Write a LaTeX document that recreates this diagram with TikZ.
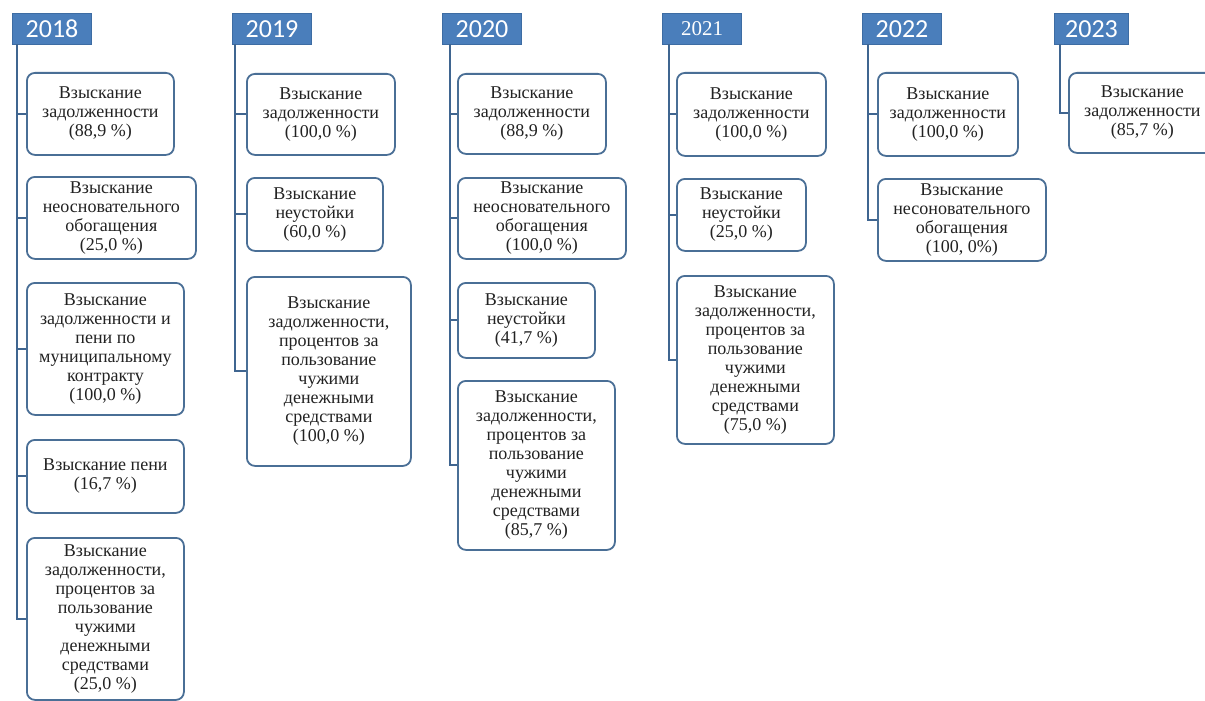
\documentclass[tikz,border=0pt]{standalone}
\usepackage{fontspec}
\setmainfont{Liberation Serif}
\newfontfamily\hdrfont{Carlito}
\definecolor{hdrblue}{HTML}{4A7EBB}
\definecolor{hdrline}{HTML}{3D6CA3}
\definecolor{boxc}{HTML}{4A6F96}
\definecolor{linec}{HTML}{3F6590}
\definecolor{txt}{HTML}{222222}
\begin{document}
\begin{tikzpicture}[x=1pt,y=-1pt,
  hdr/.style={draw=hdrline, line width=1pt, fill=hdrblue, text=white, inner sep=0pt,
    anchor=north west, minimum height=31pt, font=\hdrfont\fontsize{26}{26}\selectfont},
  yearbox/.style={draw=boxc, line width=1.8pt, rounded corners=8pt, fill=white, align=center,
    inner sep=0pt, anchor=north west, text=txt, font=\fontsize{18}{19}\selectfont},
  conn/.style={draw=linec, line width=2pt}]
\fill[white] (0,0) rectangle (1205,701);
\useasboundingbox (0,0) rectangle (1205,701);

% ---------- headers ----------
\node[hdr, minimum width=79pt] (h18) at (12,13) {2018};
\node[hdr, minimum width=79pt] (h19) at (232,13) {2019};
\node[hdr, minimum width=79pt] (h20) at (442,13) {2020};
\node[hdr, minimum width=79pt, font=\fontsize{21}{21}\selectfont] (h21) at (662,13) {2021};
\node[hdr, minimum width=79pt] (h22) at (862,13) {2022};
\node[hdr, minimum width=74pt] (h23) at (1054,13) {2023};

% ---------- connectors (drawn first, boxes cover their ends) ----------
\coordinate (v18) at (17,44);
\coordinate (v19) at (235,44);
\coordinate (v20) at (450,44);
\coordinate (v21) at (669,44);
\coordinate (v22) at (868,44);
\coordinate (v23) at (1060,44);

% ---------- 2018 ----------
\node[yearbox, minimum width=147pt, minimum height=82pt] (a1) at (26,72)
  {Взыскание\\задолженности\\(88,9 \%)};
\node[yearbox, minimum width=169pt, minimum height=82pt] (a2) at (26,176)
  {Взыскание\\неосновательного\\обогащения\\(25,0 \%)};
\node[yearbox, minimum width=157pt, minimum height=132pt] (a3) at (26,282)
  {Взыскание\\задолженности и\\пени по\\муниципальному\\контракту\\(100,0 \%)};
\node[yearbox, minimum width=157pt, minimum height=73pt] (a4) at (26,439)
  {Взыскание пени\\(16,7 \%)};
\node[yearbox, minimum width=157pt, minimum height=162pt] (a5) at (26,537)
  {Взыскание\\задолженности,\\процентов за\\пользование\\чужими\\денежными\\средствами\\(25,0 \%)};

% ---------- 2019 ----------
\node[yearbox, minimum width=148pt, minimum height=81pt] (b1) at (246,73)
  {Взыскание\\задолженности\\(100,0 \%)};
\node[yearbox, minimum width=136pt, minimum height=73pt] (b2) at (246,177)
  {Взыскание\\неустойки\\(60,0 \%)};
\node[yearbox, minimum width=164pt, minimum height=189pt] (b3) at (246,276)
  {Взыскание\\задолженности,\\процентов за\\пользование\\чужими\\денежными\\средствами\\(100,0 \%)};

% ---------- 2020 ----------
\node[yearbox, minimum width=148pt, minimum height=80pt] (c1) at (457,73)
  {Взыскание\\задолженности\\(88,9 \%)};
\node[yearbox, minimum width=168pt, minimum height=81pt] (c2) at (457,177)
  {Взыскание\\неосновательного\\обогащения\\(100,0 \%)};
\node[yearbox, minimum width=137pt, minimum height=75pt] (c3) at (457,282)
  {Взыскание\\неустойки\\(41,7 \%)};
\node[yearbox, minimum width=157pt, minimum height=169pt] (c4) at (457,380)
  {Взыскание\\задолженности,\\процентов за\\пользование\\чужими\\денежными\\средствами\\(85,7 \%)};

% ---------- 2021 ----------
\node[yearbox, minimum width=149pt, minimum height=83pt] (d1) at (676,72)
  {Взыскание\\задолженности\\(100,0 \%)};
\node[yearbox, minimum width=129pt, minimum height=72pt] (d2) at (676,178)
  {Взыскание\\неустойки\\(25,0 \%)};
\node[yearbox, minimum width=157pt, minimum height=168pt] (d3) at (676,275)
  {Взыскание\\задолженности,\\процентов за\\пользование\\чужими\\денежными\\средствами\\(75,0 \%)};

% ---------- 2022 ----------
\node[yearbox, minimum width=140pt, minimum height=83pt] (e1) at (877,72)
  {Взыскание\\задолженности\\(100,0 \%)};
\node[yearbox, minimum width=168pt, minimum height=82pt] (e2) at (877,178)
  {Взыскание\\несоновательного\\обогащения\\(100, 0\%)};

% ---------- 2023 ----------
\node[yearbox, minimum width=147pt, minimum height=80pt] (f1) at (1068,72)
  {Взыскание\\задолженности\\(85,7 \%)};

% ---------- connectors ----------
\draw[conn] (v18) |- (a5.west);
\draw[conn] (v18 |- a1.west) -- (a1.west);
\draw[conn] (v18 |- a2.west) -- (a2.west);
\draw[conn] (v18 |- a3.west) -- (a3.west);
\draw[conn] (v18 |- a4.west) -- (a4.west);

\draw[conn] (v19) |- (b3.west);
\draw[conn] (v19 |- b1.west) -- (b1.west);
\draw[conn] (v19 |- b2.west) -- (b2.west);

\draw[conn] (v20) |- (c4.west);
\draw[conn] (v20 |- c1.west) -- (c1.west);
\draw[conn] (v20 |- c2.west) -- (c2.west);
\draw[conn] (v20 |- c3.west) -- (c3.west);

\draw[conn] (v21) |- (d3.west);
\draw[conn] (v21 |- d1.west) -- (d1.west);
\draw[conn] (v21 |- d2.west) -- (d2.west);

\draw[conn] (v22) |- (e2.west);
\draw[conn] (v22 |- e1.west) -- (e1.west);

\draw[conn] (v23) |- (f1.west);
\end{tikzpicture}
\end{document}
